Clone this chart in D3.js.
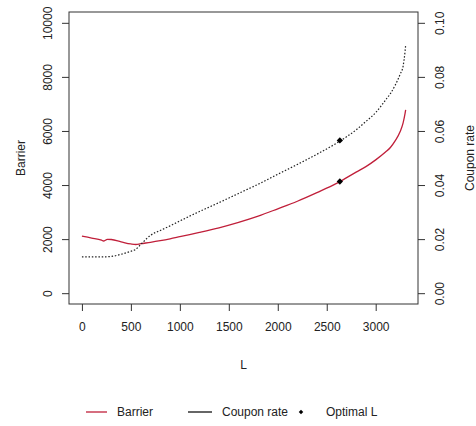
<!DOCTYPE html>
<html>
<head>
<meta charset="utf-8">
<script src="https://cdn.jsdelivr.net/npm/d3@7"></script>
<style>
  body { margin: 0; background: #fff; }
  svg { display: block; font-family: "Liberation Sans", Arial, sans-serif; }
</style>
</head>
<body>
<svg id="chart" width="476" height="426"></svg>
<script>
// ---- data ----
const L_values = [0, 100, 200, 220, 260, 300, 400, 500, 550, 600, 700, 800, 900, 1000, 1100, 1200, 1400, 1600, 1800, 2000, 2200, 2400, 2600, 2800, 2900, 3000, 3100, 3150, 3200, 3250, 3280, 3300, 3306];
const barrier = [2110, 2040, 1960, 1930, 1990, 1985, 1900, 1820, 1800, 1830, 1880, 1940, 2010, 2090, 2170, 2250, 2420, 2620, 2850, 3120, 3400, 3720, 4060, 4480, 4680, 4930, 5220, 5390, 5640, 5980, 6300, 6650, 6780];
const couponRate = [0.0134, 0.0134, 0.0134, 0.0134, 0.0135, 0.0136, 0.0144, 0.0155, 0.0162, 0.0180, 0.0214, 0.0232, 0.0249, 0.0267, 0.0285, 0.0302, 0.0335, 0.0369, 0.0403, 0.0440, 0.0476, 0.0514, 0.0555, 0.0604, 0.0635, 0.0668, 0.0714, 0.0738, 0.0770, 0.0810, 0.0840, 0.0895, 0.0918];
const optimalL = 2634;
const optimalBarrier = 4130;
const optimalCoupon = 0.0565;
const xTicks = [0, 500, 1000, 1500, 2000, 2500, 3000];
const yTicksLeft = [0, 2000, 4000, 6000, 8000, 10000];
const yTicksRight = [0.00, 0.02, 0.04, 0.06, 0.08, 0.10];
const legendLabels = ["Barrier", "Coupon rate", "Optimal L"];

(function () {
  const svg = d3.select("#chart");
  const pL = 69, pR = 418, pT = 12, pB = 304;
  const RED = "#c01f3a";
  const txt = "#222";
  const FONT = "Liberation Sans, Arial, sans-serif";

  const x = d3.scaleLinear().domain([-132, 3432]).range([pL, pR]);
  const y = d3.scaleLinear().domain([-400, 10400]).range([pB, pT]);
  const yR = d3.scaleLinear().domain([-0.004, 0.104]).range([pB, pT]);

  // x axis
  const gx = svg.append("g").attr("transform", `translate(0,${pB})`)
    .call(d3.axisBottom(x).tickValues(xTicks).tickSize(7).tickPadding(11).tickSizeOuter(0).tickFormat(d3.format("d")));
  gx.select(".domain").remove();
  gx.selectAll("line").attr("stroke", "#333");
  gx.selectAll("text").attr("font-size", 12).attr("fill", txt).attr("font-family", FONT);

  // left axis
  const gy = svg.append("g").attr("transform", `translate(${pL},0)`)
    .call(d3.axisLeft(y).tickValues(yTicksLeft).tickSize(7).tickSizeOuter(0).tickFormat(d3.format("d")));
  gy.select(".domain").remove();
  gy.selectAll("line").attr("stroke", "#333");
  gy.selectAll("text")
    .attr("x", null).attr("y", null).attr("dy", "0.35em")
    .attr("transform", "translate(-21,0) rotate(-90)")
    .attr("text-anchor", "middle")
    .attr("font-size", 12).attr("fill", txt).attr("font-family", FONT);

  // right axis
  const gyr = svg.append("g").attr("transform", `translate(${pR},0)`)
    .call(d3.axisRight(yR).tickValues(yTicksRight).tickSize(7).tickSizeOuter(0).tickFormat(d3.format(".2f")));
  gyr.select(".domain").remove();
  gyr.selectAll("line").attr("stroke", "#333");
  gyr.selectAll("text")
    .attr("x", null).attr("y", null).attr("dy", "0.35em")
    .attr("transform", "translate(22,0) rotate(-90)")
    .attr("text-anchor", "middle")
    .attr("font-size", 12).attr("fill", txt).attr("font-family", FONT);

  // box
  svg.append("rect").attr("x", pL).attr("y", pT).attr("width", pR - pL).attr("height", pB - pT)
    .attr("fill", "none").attr("stroke", "#333").attr("stroke-width", 1);

  // axis titles
  svg.append("text").attr("x", (pL + pR) / 2).attr("y", 369).attr("text-anchor", "middle")
    .attr("font-size", 12).attr("fill", txt).text("L");
  svg.append("text").attr("transform", `translate(21,${(pT + pB) / 2}) rotate(-90)`).attr("dy", "0.35em")
    .attr("text-anchor", "middle").attr("font-size", 12).attr("fill", txt).text("Barrier");
  svg.append("text").attr("transform", `translate(470,${(pT + pB) / 2}) rotate(-90)`).attr("dy", "0.35em")
    .attr("text-anchor", "middle").attr("font-size", 12).attr("fill", txt).text("Coupon rate");

  // lines
  const idx = d3.range(L_values.length);
  svg.append("path")
    .attr("d", d3.line().curve(d3.curveMonotoneX).x(i => x(L_values[i])).y(i => y(barrier[i]))(idx))
    .attr("fill", "none").attr("stroke", RED).attr("stroke-width", 1.3);
  svg.append("path")
    .attr("d", d3.line().curve(d3.curveMonotoneX).x(i => x(L_values[i])).y(i => yR(couponRate[i]))(idx))
    .attr("fill", "none").attr("stroke", "#222").attr("stroke-width", 1.2).attr("stroke-dasharray", "1.5,1.8");

  // optimal points
  [[optimalL, y(optimalBarrier)], [optimalL, yR(optimalCoupon)]].forEach(([lv, py]) => {
    svg.append("path").attr("d", d3.symbol().type(d3.symbolSquare).size(20)())
      .attr("transform", `translate(${x(lv)},${py}) rotate(45)`).attr("fill", "#000");
  });

  // legend
  const ly = 412;
  svg.append("line").attr("x1", 86).attr("x2", 107).attr("y1", ly).attr("y2", ly).attr("stroke", RED).attr("stroke-width", 1.3);
  svg.append("text").attr("x", 117).attr("y", ly).attr("dy", "0.35em").attr("font-size", 12).attr("fill", txt).text(legendLabels[0]);
  svg.append("line").attr("x1", 188).attr("x2", 212).attr("y1", ly).attr("y2", ly).attr("stroke", "#000").attr("stroke-width", 1.2);
  svg.append("text").attr("x", 222).attr("y", ly).attr("dy", "0.35em").attr("font-size", 12).attr("fill", txt).text(legendLabels[1]);
  svg.append("path").attr("d", d3.symbol().type(d3.symbolSquare).size(10)())
    .attr("transform", `translate(301,${ly}) rotate(45)`).attr("fill", "#000");
  svg.append("text").attr("x", 326).attr("y", ly).attr("dy", "0.35em").attr("font-size", 12).attr("fill", txt).text(legendLabels[2]);
})();
</script>
</body>
</html>
